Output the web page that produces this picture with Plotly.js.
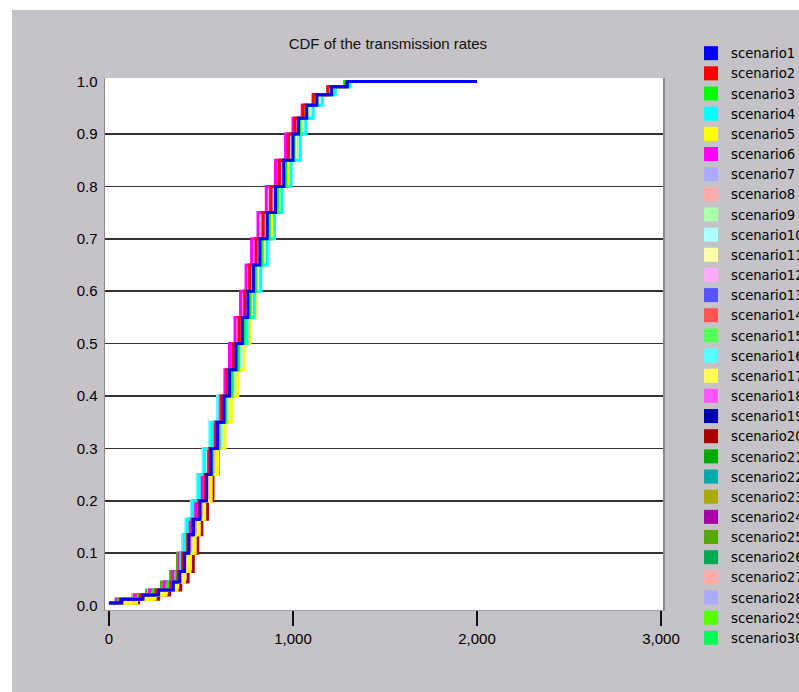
<!DOCTYPE html>
<html>
<head>
<meta charset="utf-8">
<script src="https://cdn.plot.ly/plotly-3.0.1.min.js"></script>
<style>
  html, body { margin: 0; padding: 0; background: #ffffff; width: 799px; height: 692px; overflow: hidden; }
  #wrap { position: absolute; left: 12px; top: 10px; width: 787px; height: 682px; background: #c5c3c7; overflow: hidden; }
  #chart { width: 787px; height: 682px; }
</style>
</head>
<body>
<div id="wrap"><div id="chart"></div></div>
<script>
// CDF levels (probability reached at each step)
const levels = [0.005, 0.012, 0.02, 0.03, 0.045, 0.065, 0.1, 0.135, 0.165, 0.2, 0.25, 0.3, 0.35, 0.4, 0.45, 0.5, 0.55, 0.6, 0.65, 0.7, 0.75, 0.8, 0.85, 0.9, 0.93, 0.955, 0.975, 0.99, 1.0];

const scenarioNames = ["scenario1","scenario2","scenario3","scenario4","scenario5","scenario6","scenario7","scenario8","scenario9","scenario10","scenario11","scenario12","scenario13","scenario14","scenario15","scenario16","scenario17","scenario18","scenario19","scenario20","scenario21","scenario22","scenario23","scenario24","scenario25","scenario26","scenario27","scenario28","scenario29","scenario30"];

const scenarioColors = ["#0000ff","#ff0000","#00ff00","#00ffff","#ffff00","#ff00ff","#aaaaff","#ffaaaa","#aaffaa","#aaffff","#ffffaa","#ffaaff","#5555ff","#ff5555","#55ff55","#55ffff","#ffff55","#ff55ff","#0000aa","#aa0000","#00aa00","#00aaaa","#aaaa00","#aa00aa","#55aa00","#00aa55","#ffaaaa","#aaaaff","#55ff00","#00ff55"];

// transmission rate at which each CDF level is reached (one list per scenario)
const s1  = [0, 70, 185, 270, 350, 385, 410, 435, 460, 495, 530, 555, 590, 625, 655, 690, 725, 755, 785, 820, 860, 905, 950, 1000, 1030, 1075, 1130, 1210, 1295];
const s2  = [0, 60, 170, 255, 335, 375, 400, 428, 452, 488, 522, 548, 580, 612, 642, 675, 708, 738, 765, 800, 838, 880, 925, 975, 1010, 1055, 1110, 1190, 1290];
const s3  = [0, 50, 160, 240, 320, 365, 398, 428, 455, 490, 528, 560, 598, 632, 668, 700, 735, 765, 795, 830, 870, 915, 960, 1005, 1035, 1070, 1120, 1190, 1280];
const s4  = [0, 55, 175, 260, 330, 370, 390, 410, 425, 455, 490, 520, 560, 610, 660, 705, 750, 790, 825, 860, 900, 940, 990, 1040, 1070, 1110, 1160, 1230, 1310];
const s5  = [0, 150, 250, 310, 370, 410, 440, 468, 490, 520, 555, 590, 630, 665, 700, 735, 765, 795, 825, 855, 890, 930, 970, 1010, 1040, 1080, 1130, 1200, 1290];
const s6  = [0, 40, 140, 220, 300, 345, 380, 410, 440, 470, 505, 540, 575, 605, 630, 655, 685, 715, 745, 775, 810, 855, 905, 960, 1000, 1050, 1110, 1190, 1280];
const s7  = [0, 45, 145, 225, 310, 360, 395, 425, 455, 490, 525, 560, 595, 630, 662, 695, 728, 760, 792, 828, 868, 912, 958, 1005, 1040, 1080, 1130, 1200, 1285];
const s8  = [0, 65, 180, 265, 345, 385, 415, 445, 470, 505, 540, 570, 605, 640, 672, 705, 738, 770, 800, 835, 872, 915, 960, 1008, 1040, 1080, 1128, 1195, 1290];
const s9  = [0, 55, 170, 250, 330, 372, 402, 430, 458, 492, 530, 562, 598, 634, 666, 700, 734, 764, 796, 832, 872, 916, 962, 1010, 1042, 1082, 1130, 1200, 1290];
const s10 = [0, 60, 175, 262, 342, 382, 412, 440, 468, 502, 540, 575, 612, 650, 685, 720, 756, 790, 822, 858, 898, 942, 988, 1035, 1065, 1102, 1150, 1215, 1300];
const s11 = [0, 90, 200, 280, 355, 392, 420, 448, 475, 510, 545, 580, 615, 650, 685, 718, 750, 782, 812, 846, 884, 926, 970, 1015, 1045, 1085, 1132, 1200, 1290];
const s12 = [0, 35, 135, 215, 300, 350, 388, 420, 450, 482, 518, 552, 586, 618, 650, 682, 714, 746, 778, 812, 850, 895, 942, 992, 1028, 1070, 1120, 1190, 1285];
const s13 = [0, 55, 165, 250, 330, 370, 400, 428, 455, 490, 525, 556, 590, 624, 656, 690, 724, 756, 788, 822, 862, 906, 952, 1000, 1032, 1074, 1124, 1195, 1290];
const s14 = [0, 70, 190, 275, 350, 390, 418, 444, 470, 502, 536, 566, 600, 634, 665, 698, 730, 760, 790, 824, 862, 905, 950, 998, 1030, 1072, 1122, 1192, 1290];
const s15 = [0, 40, 150, 230, 310, 355, 390, 420, 448, 482, 518, 550, 585, 620, 652, 685, 718, 750, 782, 818, 858, 902, 950, 1000, 1034, 1075, 1125, 1195, 1288];
const s16 = [0, 50, 160, 245, 320, 360, 382, 400, 418, 448, 480, 512, 548, 590, 635, 680, 725, 768, 806, 845, 888, 932, 980, 1030, 1062, 1100, 1150, 1220, 1305];
const s17 = [0, 120, 230, 300, 365, 405, 435, 462, 486, 518, 552, 585, 622, 658, 692, 726, 758, 790, 820, 852, 888, 928, 970, 1012, 1042, 1082, 1130, 1198, 1290];
const s18 = [0, 45, 150, 230, 310, 355, 388, 418, 446, 478, 512, 546, 580, 612, 642, 672, 702, 732, 762, 795, 832, 875, 922, 975, 1012, 1058, 1112, 1188, 1282];
const s19 = [0, 60, 175, 262, 342, 380, 406, 432, 458, 492, 528, 556, 592, 628, 660, 694, 728, 758, 790, 824, 864, 908, 954, 1002, 1034, 1076, 1128, 1205, 1292];
const s20 = [0, 160, 270, 330, 390, 430, 458, 482, 505, 535, 565, 592, 625, 655, 685, 715, 745, 775, 805, 838, 875, 918, 962, 1008, 1040, 1080, 1128, 1196, 1290];
const s21 = [0, 50, 160, 240, 318, 360, 394, 424, 452, 486, 522, 555, 590, 626, 660, 694, 728, 760, 792, 828, 868, 912, 958, 1006, 1038, 1078, 1126, 1196, 1288];
const s22 = [0, 55, 168, 252, 328, 366, 392, 416, 440, 474, 510, 544, 582, 622, 660, 698, 736, 772, 806, 842, 882, 926, 972, 1020, 1052, 1092, 1140, 1208, 1295];
const s23 = [0, 80, 195, 275, 350, 390, 420, 448, 474, 508, 544, 578, 614, 648, 682, 716, 748, 780, 810, 844, 882, 924, 968, 1014, 1044, 1084, 1132, 1200, 1290];
const s24 = [0, 50, 155, 235, 315, 358, 390, 420, 448, 480, 514, 548, 582, 615, 646, 678, 710, 742, 772, 806, 844, 888, 936, 986, 1022, 1064, 1116, 1190, 1285];
const s25 = [0, 35, 130, 205, 285, 335, 372, 404, 434, 468, 505, 540, 576, 612, 646, 680, 714, 746, 778, 814, 854, 898, 946, 996, 1030, 1072, 1122, 1194, 1288];
const s26 = [0, 45, 150, 232, 312, 356, 388, 414, 440, 474, 510, 544, 580, 616, 650, 684, 718, 750, 782, 818, 858, 902, 950, 1000, 1034, 1076, 1126, 1196, 1290];
const s27 = [0, 75, 190, 270, 348, 388, 416, 444, 470, 504, 540, 572, 608, 642, 676, 708, 740, 772, 802, 836, 874, 916, 962, 1010, 1042, 1082, 1130, 1198, 1290];
const s28 = [0, 40, 140, 220, 305, 352, 388, 418, 448, 482, 518, 552, 588, 624, 658, 692, 726, 758, 790, 826, 866, 910, 956, 1004, 1038, 1078, 1128, 1198, 1290];
const s29 = [0, 45, 150, 228, 305, 350, 384, 414, 442, 476, 512, 546, 582, 618, 652, 686, 720, 752, 784, 820, 860, 904, 952, 1002, 1036, 1076, 1126, 1196, 1288];
const s30 = [0, 50, 158, 238, 316, 360, 392, 420, 448, 482, 518, 552, 588, 624, 658, 692, 726, 758, 790, 826, 866, 910, 956, 1004, 1036, 1078, 1128, 1198, 1290];

// largest observed rate per scenario (where the CDF line ends)
const maxRates = [2000, 1430, 1300, 1320, 1300, 1290, 1300, 1300, 1300, 1310, 1300, 1290, 1300, 1300, 1295, 1315, 1300, 1290, 1300, 1300, 1295, 1305, 1300, 1290, 1295, 1300, 1300, 1300, 1295, 1300];

const xTicks = [0, 1000, 2000, 3000];
const yTicks = [0, 0.1, 0.2, 0.3, 0.4, 0.5, 0.6, 0.7, 0.8, 0.9, 1.0];
const yGrid = [0.1, 0.2, 0.3, 0.4, 0.5, 0.6, 0.7, 0.8, 0.9];

const series = [s1,s2,s3,s4,s5,s6,s7,s8,s9,s10,s11,s12,s13,s14,s15,s16,s17,s18,s19,s20,s21,s22,s23,s24,s25,s26,s27,s28,s29,s30];

const traces = [];
// lines: drawn last-to-first so scenario1 ends on top
for (let i = series.length - 1; i >= 0; i--) {
  traces.push({
    type: 'scatter', mode: 'lines',
    x: series[i].concat([maxRates[i]]),
    y: levels.concat([1.0]),
    line: { shape: 'hv', color: scenarioColors[i], width: 3 },
    showlegend: false, hoverinfo: 'skip', name: scenarioNames[i]
  });
}
// legend entries (square swatches)
for (let i = 0; i < series.length; i++) {
  traces.push({
    type: 'scatter', mode: 'markers', x: [null], y: [null], yaxis: 'y2',
    name: scenarioNames[i],
    marker: { symbol: 'square', size: 14, color: scenarioColors[i], line: { width: 0 } },
    showlegend: true, hoverinfo: 'skip'
  });
}

const font = { family: '"Liberation Sans", Arial, sans-serif', size: 15, color: '#000000' };

const layout = {
  width: 787, height: 682,
  paper_bgcolor: '#c5c3c7', plot_bgcolor: '#ffffff',
  margin: { l: 93, r: 136, t: 68, b: 82, autoexpand: false },
  font: font,
  title: { text: 'CDF of the transmission rates', x: 0.507, xref: 'paper', xanchor: 'center', y: 0.95, yref: 'container', yanchor: 'middle',
           font: { family: font.family, size: 15, color: '#111111' } },
  xaxis: {
    range: [-21.7, 3011], tickmode: 'array', tickvals: xTicks, tickformat: ',',
    ticks: 'outside', ticklen: 15, tickwidth: 1.5, tickcolor: '#111111',
    showgrid: false, zeroline: false, showline: true, linecolor: '#a0a0a0', linewidth: 1,
    tickfont: font
  },
  yaxis: {
    range: [-0.0084, 1.0069], tickmode: 'array', tickvals: yTicks, tickformat: '.1f',
    ticks: '', showgrid: false, zeroline: false, showline: true, mirror: true, linecolor: '#8a8a8a', linewidth: 1.5,
    ticklabelstandoff: 3, tickfont: font
  },
  yaxis2: {
    range: [-0.0084, 1.0069], overlaying: 'y', anchor: 'x', tickmode: 'array', tickvals: yGrid,
    showticklabels: false, ticks: '', showgrid: true, gridcolor: '#333333', gridwidth: 1.5, zeroline: false, showline: false
  },
  legend: {
    x: 1.0502, xanchor: 'left', y: 1.075, yanchor: 'top', maxheight: 700,
    bgcolor: 'rgba(0,0,0,0)', borderwidth: 0,
    font: { family: '"DejaVu Sans", sans-serif', size: 13.2, color: '#000000' },
    itemclick: false, itemdoubleclick: false
  },
  showlegend: true
};

Plotly.newPlot('chart', traces, layout, { displayModeBar: false, staticPlot: true });
</script>
</body>
</html>
